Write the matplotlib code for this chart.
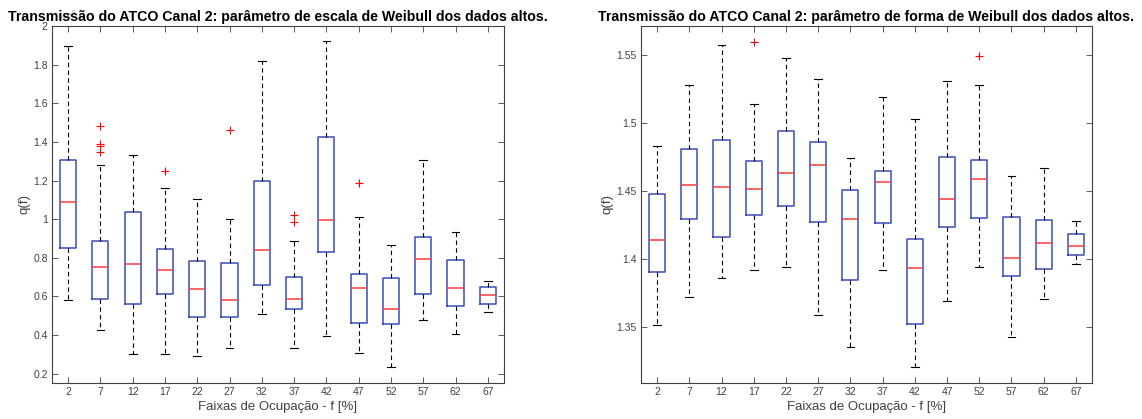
import matplotlib
matplotlib.use("Agg")
import matplotlib.pyplot as plt
from matplotlib.ticker import FormatStrFormatter

plt.rcParams["font.family"] = ["Liberation Sans", "DejaVu Sans"]

# Faixas de ocupacao (%)
ocupacao = [2, 7, 12, 17, 22, 27, 32, 37, 42, 47, 52, 57, 62, 67]

# Parametro de escala de Weibull: estatisticas de cada caixa
escala_lo = [0.581, 0.426, 0.302, 0.305, 0.293, 0.336, 0.511, 0.336, 0.397, 0.310, 0.236, 0.480, 0.404, 0.518]
escala_q1 = [0.849, 0.586, 0.563, 0.612, 0.494, 0.492, 0.657, 0.536, 0.832, 0.464, 0.458, 0.613, 0.553, 0.560]
escala_med = [1.088, 0.750, 0.768, 0.737, 0.638, 0.584, 0.839, 0.586, 0.995, 0.643, 0.536, 0.796, 0.646, 0.608]
escala_q3 = [1.307, 0.887, 1.035, 0.844, 0.783, 0.771, 1.196, 0.700, 1.423, 0.718, 0.697, 0.906, 0.789, 0.648]
escala_hi = [1.894, 1.279, 1.331, 1.161, 1.104, 1.000, 1.816, 0.887, 1.920, 1.010, 0.865, 1.308, 0.936, 0.678]
escala_out = [[], [1.482, 1.387, 1.378, 1.350], [], [1.251], [], [1.459], [],
              [1.023, 0.985], [], [1.189], [], [], [], []]

# Parametro de forma de Weibull: estatisticas de cada caixa
forma_lo = [1.3510, 1.3717, 1.3857, 1.3914, 1.3941, 1.3589, 1.3348, 1.3916, 1.3205, 1.3687, 1.3941, 1.3427, 1.3705, 1.3960]
forma_q1 = [1.3904, 1.4295, 1.4157, 1.4322, 1.4388, 1.4273, 1.3842, 1.4263, 1.3520, 1.4235, 1.4297, 1.3877, 1.3926, 1.4027]
forma_med = [1.4135, 1.4543, 1.4531, 1.4514, 1.4629, 1.4688, 1.4290, 1.4565, 1.3933, 1.4437, 1.4585, 1.4007, 1.4118, 1.4096]
forma_q3 = [1.4479, 1.4809, 1.4875, 1.4720, 1.4939, 1.4858, 1.4504, 1.4647, 1.4147, 1.4752, 1.4728, 1.4305, 1.4285, 1.4182]
forma_hi = [1.4833, 1.5281, 1.5574, 1.5138, 1.5478, 1.5323, 1.4745, 1.5188, 1.5028, 1.5311, 1.5279, 1.4612, 1.4666, 1.4278]
forma_out = [[], [], [], [1.5596], [], [], [], [], [], [], [1.549], [], [], []]

TITULO_ESCALA = "Transmissão do ATCO Canal 2: parâmetro de escala de Weibull dos dados altos."
TITULO_FORMA = "Transmissão do ATCO Canal 2: parâmetro de forma de Weibull dos dados altos."

BOX_BLUE = "#3a4dbb"
MEDIAN_RED = "#ff3b3b"
AXIS_GRAY = "#404040"


def build_stats(lo, q1, med, q3, hi, out):
    return [
        {"whislo": a, "q1": b, "med": c, "q3": d, "whishi": e, "fliers": f}
        for a, b, c, d, e, f in zip(lo, q1, med, q3, hi, out)
    ]


def draw_boxes(axis, stats, ylim, yticks, title):
    axis.bxp(
        stats,
        positions=ocupacao,
        widths=2.5,
        capwidths=1.2,
        showfliers=True,
        boxprops=dict(color=BOX_BLUE, linewidth=1.1),
        medianprops=dict(color=MEDIAN_RED, linewidth=1.1),
        whiskerprops=dict(color="black", linewidth=0.8, linestyle=(0, (4, 3))),
        capprops=dict(color="black", linewidth=0.8),
        flierprops=dict(marker="+", markeredgecolor="red", markersize=6,
                        markeredgewidth=0.8, linestyle="none"),
    )
    axis.set_xlim(-0.5, 69.5)
    axis.set_ylim(*ylim)
    axis.set_xticks(ocupacao)
    axis.set_xticklabels([str(v) for v in ocupacao])
    axis.set_yticks(yticks)
    axis.yaxis.set_major_formatter(FormatStrFormatter("%g"))
    axis.tick_params(direction="in", length=4, width=0.6, top=True, right=True,
                     labelsize=7.5, colors=AXIS_GRAY, pad=3)
    for spine in axis.spines.values():
        spine.set_edgecolor(AXIS_GRAY)
        spine.set_linewidth(0.8)
    axis.set_xlabel("Faixas de Ocupação - f [%]", fontsize=9.5, color=AXIS_GRAY, labelpad=3)
    axis.set_ylabel("q(f)", fontsize=9.5, color=AXIS_GRAY, labelpad=2)
    axis.set_title(title, fontsize=10.2, fontweight="bold", pad=3.5)


figure = plt.figure(figsize=(11.42, 4.19), dpi=100)
figure.patch.set_facecolor("white")

ax_escala = figure.add_axes([0.0455, 0.0862, 0.3958, 0.852])
ax_forma = figure.add_axes([0.5613, 0.0862, 0.3949, 0.852])

draw_boxes(
    ax_escala,
    build_stats(escala_lo, escala_q1, escala_med, escala_q3, escala_hi, escala_out),
    (0.153, 2.0),
    [0.2, 0.4, 0.6, 0.8, 1.0, 1.2, 1.4, 1.6, 1.8, 2.0],
    TITULO_ESCALA,
)
draw_boxes(
    ax_forma,
    build_stats(forma_lo, forma_q1, forma_med, forma_q3, forma_hi, forma_out),
    (1.3087, 1.5714),
    [1.35, 1.40, 1.45, 1.50, 1.55],
    TITULO_FORMA,
)

# exponent marker left by the axis, mostly covered by the title
ax_escala.text(0.012, 1.018, "×10$^{9}$", transform=ax_escala.transAxes,
               fontsize=6, color="#909090", zorder=0)

figure.savefig("out.png", dpi=100, facecolor="white")
